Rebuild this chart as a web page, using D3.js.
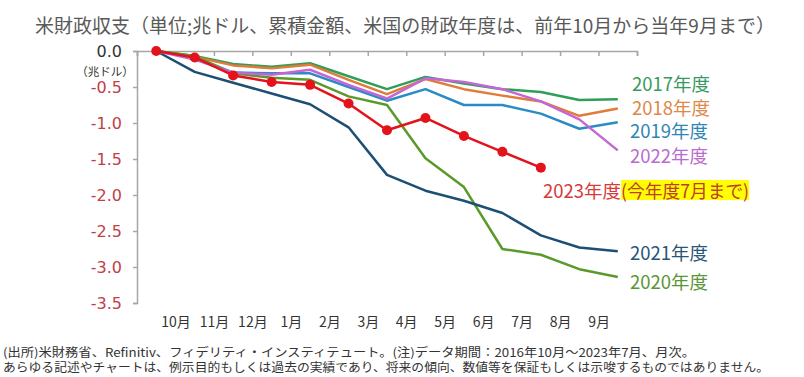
<!DOCTYPE html>
<html>
<head>
<meta charset="utf-8">
<script src="https://cdn.jsdelivr.net/npm/d3@7"></script>
<style>
  body { margin: 0; background: #fff; }
  svg { display: block; font-family: "Noto Sans CJK JP", "Noto Sans", sans-serif; }
</style>
</head>
<body>
<div id="chart"></div>
<script>
// Data (兆ドル, cumulative). index 0 = start of fiscal year
const months = ['10月', '11月', '12月', '1月', '2月', '3月', '4月', '5月', '6月', '7月', '8月', '9月'];
const yTicks = [0, -0.5, -1.0, -1.5, -2.0, -2.5, -3.0, -3.5];

const fy2017 = [0, -0.07, -0.18, -0.22, -0.17, -0.35, -0.53, -0.36, -0.45, -0.53, -0.57, -0.68, -0.67];
const fy2018 = [0, -0.08, -0.20, -0.24, -0.19, -0.40, -0.60, -0.39, -0.53, -0.62, -0.70, -0.90, -0.80];
const fy2019 = [0, -0.09, -0.30, -0.31, -0.31, -0.50, -0.69, -0.53, -0.75, -0.75, -0.87, -1.08, -0.99];
const fy2020 = [0, -0.07, -0.31, -0.37, -0.40, -0.63, -0.75, -1.49, -1.89, -2.75, -2.83, -3.03, -3.14];
const fy2021 = [0, -0.29, -0.44, -0.59, -0.74, -1.06, -1.72, -1.94, -2.08, -2.25, -2.56, -2.73, -2.78];
const fy2022 = [0, -0.12, -0.30, -0.33, -0.26, -0.47, -0.66, -0.38, -0.43, -0.53, -0.70, -0.95, -1.38];
const fy2023 = [0, -0.09, -0.34, -0.43, -0.47, -0.73, -1.10, -0.93, -1.18, -1.40, -1.62];

const series = [
    { name: '2017年度', values: fy2017, color: '#2e9e58', text: '#3a9a5e' },
    { name: '2018年度', values: fy2018, color: '#e07b39', text: '#e0874a' },
    { name: '2019年度', values: fy2019, color: '#2b8bc5', text: '#2f86b5' },
    { name: '2020年度', values: fy2020, color: '#5a9a2a', text: '#5a9636' },
    { name: '2021年度', values: fy2021, color: '#1c4f73', text: '#2a5478' },
    { name: '2022年度', values: fy2022, color: '#c466d4', text: '#bb6bd0' },
    { name: '2023年度', values: fy2023, color: '#e3121b', text: '#d63a3a', markers: true }
];

// label placement (layout only)
const labelPos = {
    '2017年度': [632, 83], '2018年度': [632, 107], '2019年度': [630, 130],
    '2022年度': [630, 155], '2023年度': [543, 190], '2021年度': [630, 252], '2020年度': [630, 281]
};

const W = 804, H = 377;
const svg = d3.select('#chart').append('svg').attr('width', W).attr('height', H);

// Title
svg.append('text')
    .attr('x', 35).attr('y', 24)
    .attr('dominant-baseline', 'central')
    .attr('font-size', 19).attr('fill', '#595959')
    .text('米財政収支（単位;兆ドル、累積金額、米国の財政年度は、前年10月から当年9月まで）');

// Scales
const x = d3.scaleLinear().domain([-0.5, 12.5]).range([137, 637]);
const y = d3.scaleLinear().domain([0, -3.5]).range([51, 303]);

// Top axis (ticks only)
const topAxis = svg.append('g')
    .attr('transform', 'translate(0,51)')
    .call(d3.axisTop(x).tickValues(d3.range(-0.5, 13, 1)).tickSize(-5).tickFormat(''));
topAxis.selectAll('path, line').attr('stroke', '#a6a6a6').attr('stroke-width', 1.5);

// Y axis
const yAxisG = svg.append('g')
    .attr('transform', 'translate(137,0)')
    .call(d3.axisLeft(y).tickValues(yTicks).tickSize(4).tickPadding(11)
        .tickFormat(d => d.toFixed(1)));
yAxisG.selectAll('path, line').attr('stroke', '#a6a6a6').attr('stroke-width', 1.5);
yAxisG.selectAll('text')
    .attr('font-family', '"DejaVu Sans", sans-serif')
    .attr('font-size', 16)
    .attr('fill', d => d === 0 ? '#333' : '#c0404a');

svg.append('text')
    .attr('x', 105).attr('y', 71)
    .attr('text-anchor', 'middle').attr('dominant-baseline', 'central')
    .attr('font-size', 11.5).attr('fill', '#333')
    .text('（兆ドル）');

// Month labels
const xAxisG = svg.append('g')
    .attr('transform', 'translate(0,314)')
    .call(d3.axisBottom(x).tickValues(d3.range(0.5, 12, 1)).tickSize(0)
        .tickFormat((d, i) => months[i]));
xAxisG.select('.domain').remove();
xAxisG.selectAll('text').attr('font-size', 14).attr('fill', '#333')
    .attr('font-family', '"Noto Sans CJK JP", sans-serif');

// Lines
const line = d3.line().x((d, i) => x(i)).y(d => y(d));
series.forEach(s => {
    svg.append('path')
        .datum(s.values)
        .attr('fill', 'none')
        .attr('stroke', s.color)
        .attr('stroke-width', 2.5)
        .attr('stroke-linejoin', 'round')
        .attr('d', line);
    if (s.markers) {
        svg.append('g').selectAll('circle')
            .data(s.values)
            .join('circle')
            .attr('cx', (d, i) => x(i))
            .attr('cy', d => y(d))
            .attr('r', 5)
            .attr('fill', s.color);
    }
});

// Series labels
series.forEach(s => {
    const [lx, ly] = labelPos[s.name];
    const t = svg.append('text')
        .attr('x', lx).attr('y', ly)
        .attr('dominant-baseline', 'central')
        .attr('font-size', 18.5).attr('fill', s.text)
        .text(s.name);
    if (s.markers) {
        const bb = t.node().getBBox();
        const note = '(今年度7月まで)';
        const hl = svg.append('rect').attr('fill', '#ffff00');
        const nt = svg.append('text')
            .attr('x', bb.x + bb.width).attr('y', ly)
            .attr('dominant-baseline', 'central')
            .attr('font-size', 18.5).attr('fill', '#c0392b')
            .attr('textLength', 128).attr('lengthAdjust', 'spacingAndGlyphs')
            .text(note);
        const nb = nt.node().getBBox();
        hl.attr('x', nb.x).attr('y', nb.y + 3).attr('width', nb.width).attr('height', nb.height - 6);
    }
});

// Footnote
const notes = [
    '(出所)米財務省、Refinitiv、フィデリティ・インスティテュート。(注)データ期間：2016年10月～2023年7月、月次。',
    'あらゆる記述やチャートは、例示目的もしくは過去の実績であり、将来の傾向、数値等を保証もしくは示唆するものではありません。'
];
svg.append('g').selectAll('text')
    .data(notes)
    .join('text')
    .attr('x', 3).attr('y', (d, i) => 351 + i * 15)
    .attr('dominant-baseline', 'central')
    .attr('font-size', 12).attr('fill', '#333')
    .attr('textLength', (d, i) => i === 0 ? 692 : 766)
    .attr('lengthAdjust', 'spacingAndGlyphs')
    .text(d => d);
</script>
</body>
</html>
